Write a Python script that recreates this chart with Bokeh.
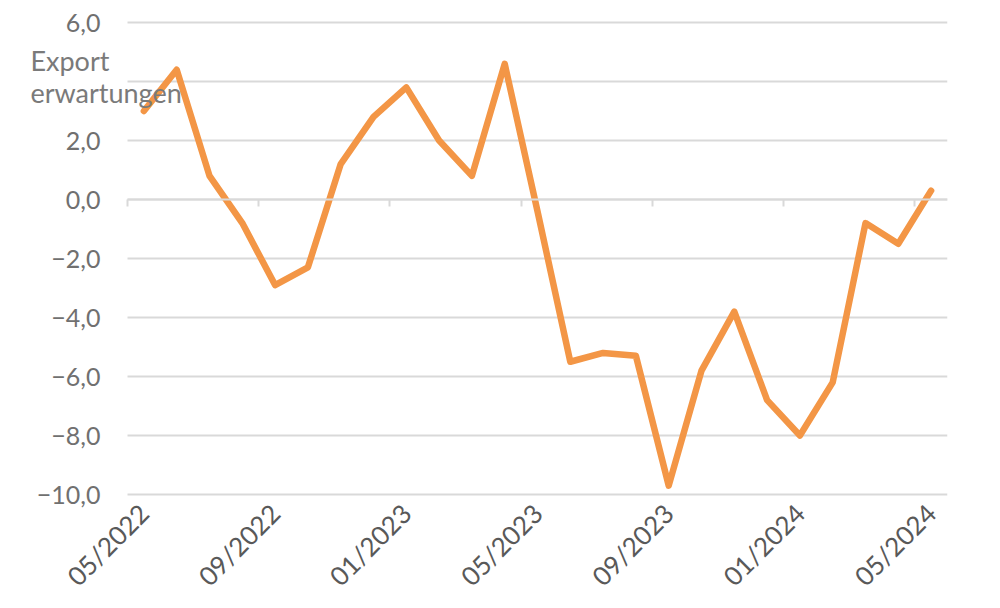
import math
from bokeh.plotting import figure
from bokeh.models import Range1d, FixedTicker, LinearAxis, Label
from bokeh.embed import file_html
from bokeh.resources import INLINE

months = ["05/2022", "06/2022", "07/2022", "08/2022", "09/2022", "10/2022", "11/2022", "12/2022",
          "01/2023", "02/2023", "03/2023", "04/2023", "05/2023", "06/2023", "07/2023", "08/2023",
          "09/2023", "10/2023", "11/2023", "12/2023", "01/2024", "02/2024", "03/2024", "04/2024",
          "05/2024"]
values = [3.0, 4.4, 0.8, -0.8, -2.9, -2.3, 1.2, 2.8, 3.8, 2.0, 0.8, 4.6, -0.4, -5.5, -5.2, -5.3,
          -9.7, -5.8, -3.8, -6.8, -8.0, -6.2, -0.8, -1.5, 0.3]
y_ticks = [-10, -8, -6, -4, -2, 0, 2, 4, 6]
y_tick_labels = ["\u221210,0", "\u22128,0", "\u22126,0", "\u22124,0", "\u22122,0", "0,0", "2,0", "", "6,0"]
label_every = 4
title_lines = ["Export", "erwartungen"]

FONT = "Lato"
GRID = "#d9d9d9"
n = len(months)
xs = [i + 0.5 for i in range(n)]
label_idx = list(range(0, n, label_every))
y_min, y_max = y_ticks[0], y_ticks[-1]

# The frame covers the whole canvas (except a right margin) so that no text is clipped;
# the data area runs from x=0..n and y=-10..6 (127 px from the left, 22 px from the top).
PX_X = 32.8    # px per month
PX_Y = 29.5    # px per unit
p = figure(width=992, height=600,
           x_range=Range1d(-127 / PX_X, n),
           y_range=Range1d(y_min - 106 / PX_Y, y_max + 22 / PX_Y),
           output_backend="svg", toolbar_location=None,
           x_axis_location=None, y_axis_location=None,
           min_border_left=0, min_border_right=45, min_border_top=0, min_border_bottom=0)
p.outline_line_color = None
p.background_fill_color = "white"
p.xgrid.visible = False
p.ygrid.visible = False

# horizontal gridlines over the data area only
p.segment(x0=[0] * len(y_ticks), x1=[n] * len(y_ticks), y0=y_ticks, y1=y_ticks,
          line_color=GRID, line_width=2)

# y axis anchored at the left edge of the data area
ya = LinearAxis(fixed_location=0, ticker=FixedTicker(ticks=y_ticks),
                major_label_overrides={t: l for t, l in zip(y_ticks, y_tick_labels)},
                axis_line_color=None, major_tick_line_color=None, minor_tick_line_color=None,
                major_label_text_font=FONT, major_label_text_font_size="25px",
                major_label_text_color="#707070", major_label_standoff=21)
p.add_layout(ya, "left")

# month labels below the data area
xa = LinearAxis(fixed_location=y_min, ticker=FixedTicker(ticks=[xs[i] for i in label_idx]),
                major_label_overrides={xs[i]: months[i] for i in label_idx},
                major_label_orientation=math.pi / 4,
                axis_line_color=None, major_tick_line_color=None, minor_tick_line_color=None,
                major_label_text_font=FONT, major_label_text_font_size="26px",
                major_label_text_color="#595959", major_label_standoff=8)
p.add_layout(xa, "below")

# zero axis with category boundary ticks
bticks = [float(i) for i in label_idx]
zax = LinearAxis(fixed_location=0, ticker=FixedTicker(ticks=bticks), bounds=(0, n),
                 axis_line_color=GRID, axis_line_width=2,
                 major_tick_line_color=GRID, major_tick_line_width=2,
                 major_tick_in=0, major_tick_out=7, minor_tick_line_color=None,
                 major_label_overrides={t: "" for t in bticks},
                 major_label_text_alpha=0)
p.add_layout(zax, "below")

p.line(xs, values, line_color="#F39646", line_width=6.5, line_join="round", line_cap="round")

# title block (top-left)
title_x = -2.96
title_y = [4.72, 3.63]
for txt, ty in zip(title_lines, title_y):
    p.add_layout(Label(x=title_x, y=ty, text=txt, text_font=FONT, text_font_size="27px",
                       text_color="#7a7a7a", text_baseline="alphabetic", text_align="left"))

open("out.html", "w").write(file_html(p, INLINE))
